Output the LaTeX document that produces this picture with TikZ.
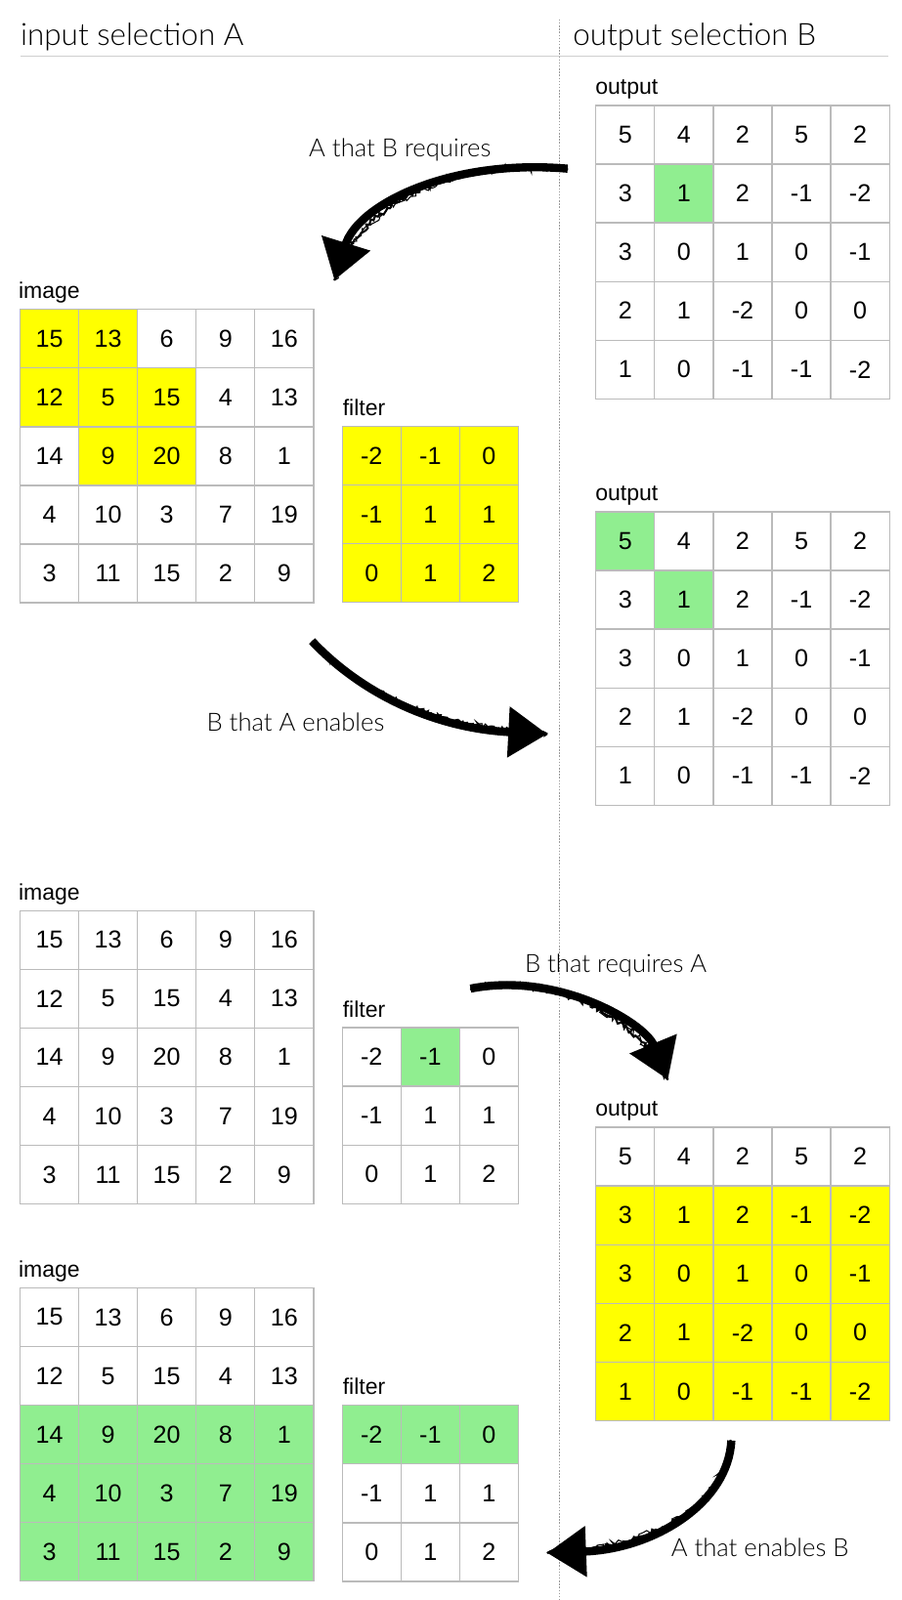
\documentclass[tikz,border=0pt]{standalone}
\usepackage{fontspec}
\setmainfont{Liberation Sans}
\newfontfamily\lightfont{Lato Light}
\usetikzlibrary{arrows.meta, matrix, decorations.pathmorphing}

\definecolor{gridgray}{HTML}{BBBBBB}
\definecolor{dotgray}{HTML}{999999}
\definecolor{rulegray}{HTML}{CFCFCF}
\definecolor{selyellow}{HTML}{FFFF00}
\definecolor{selgreen}{HTML}{90EE90}

\tikzset{
  numgrid/.style={matrix of nodes, ampersand replacement=\&, anchor=north west,
    inner sep=0pt, outer sep=0pt, row sep=-1.2pt, column sep=-1.2pt,
    nodes={draw=gridgray, line width=1.2pt, anchor=center, inner sep=0pt,
      minimum width=57.4pt, minimum height=57.4pt,
      font=\fontsize{24}{24}\selectfont}},
  yel/.style={fill=selyellow},
  grn/.style={fill=selgreen},
  gridlabel/.style={anchor=base west, inner sep=0pt, font=\fontsize{22}{22}\selectfont},
  heading/.style={anchor=base west, inner sep=0pt, font=\lightfont\fontsize{30}{30}\selectfont},
  armlabel/.style={anchor=base, inner sep=0pt, font=\lightfont\fontsize{24.5}{24.5}\selectfont},
  chalk/.style={line width=8pt, -{Triangle[length=38pt,width=48pt]},
    postaction={draw, -, line width=2pt, decorate,
      decoration={random steps, segment length=2.5pt, amplitude=2.5pt}},
    postaction={draw, -, line width=1pt, decorate,
      decoration={random steps, segment length=3pt, amplitude=3.5pt}}}
}

\begin{document}
\begin{tikzpicture}[x=1pt, y=-1pt]
\useasboundingbox (0,0) rectangle (881,1565);

% headings
\node[heading] (head-a) at (20,44) {input selection A};
\node[heading] (head-b) at (560,44) {output selection B};
\draw[rulegray, line width=1.5pt] (20,55) -- (868,55);
\draw[dotgray, line width=1.4pt, dash pattern=on 1.4pt off 1.6pt] (547,19) -- (547,1565);

% --- A that B requires
\node[gridlabel] (lbl-out1) at (582,92) {output};
\matrix (out1) [numgrid] at (582,102.5) {
  5 \& 4 \& 2 \& 5 \& 2 \\
  3 \& |[grn]| 1 \& 2 \& -1 \& -2 \\
  3 \& 0 \& 1 \& 0 \& -1 \\
  2 \& 1 \& -2 \& 0 \& 0 \\
  1 \& 0 \& -1 \& -1 \& -2 \\
};

\node[gridlabel] (lbl-img1) at (18,292) {image};
\matrix (img1) [numgrid] at (19,302) {
  |[yel]| 15 \& |[yel]| 13 \& 6 \& 9 \& 16 \\
  |[yel]| 12 \& |[yel]| 5 \& |[yel]| 15 \& 4 \& 13 \\
  14 \& |[yel]| 9 \& |[yel]| 20 \& 8 \& 1 \\
  4 \& 10 \& 3 \& 7 \& 19 \\
  3 \& 11 \& 15 \& 2 \& 9 \\
};

\node[gridlabel] (lbl-fil1) at (335,407) {filter};
\matrix (fil1) [numgrid] at (334,416.5) {
  |[yel]| -2 \& |[yel]| -1 \& |[yel]| 0 \\
  |[yel]| -1 \& |[yel]| 1 \& |[yel]| 1 \\
  |[yel]| 0 \& |[yel]| 1 \& |[yel]| 2 \\
};

\coordinate (req-from) at (555,165);
\coordinate (req-to) at (327,274);
\draw[chalk] (req-from) .. controls (440,155) and (350,200) .. (req-to);
\node[armlabel] (arm-req) at (391,153) {A that B requires};

% --- B that A enables
\node[gridlabel] (lbl-out2) at (582,490) {output};
\matrix (out2) [numgrid] at (582,500) {
  |[grn]| 5 \& 4 \& 2 \& 5 \& 2 \\
  3 \& |[grn]| 1 \& 2 \& -1 \& -2 \\
  3 \& 0 \& 1 \& 0 \& -1 \\
  2 \& 1 \& -2 \& 0 \& 0 \\
  1 \& 0 \& -1 \& -1 \& -2 \\
};

\coordinate (ena-from) at (305,627);
\coordinate (ena-to) at (535,718);
\draw[chalk] (ena-from) .. controls (350,675) and (420,712) .. (ena-to);
\node[armlabel] (arm-ena) at (289,715) {B that A enables};

% --- B that requires A
\node[gridlabel] (lbl-img2) at (18,880) {image};
\matrix (img2) [numgrid] at (19,890) {
  15 \& 13 \& 6 \& 9 \& 16 \\
  12 \& 5 \& 15 \& 4 \& 13 \\
  14 \& 9 \& 20 \& 8 \& 1 \\
  4 \& 10 \& 3 \& 7 \& 19 \\
  3 \& 11 \& 15 \& 2 \& 9 \\
};

\node[gridlabel] (lbl-fil2) at (335,995) {filter};
\matrix (fil2) [numgrid] at (334,1004.5) {
  -2 \& |[grn]| -1 \& 0 \\
  -1 \& 1 \& 1 \\
  0 \& 1 \& 2 \\
};

\node[gridlabel] (lbl-out3) at (582,1092) {output};
\matrix (out3) [numgrid] at (582,1102) {
  5 \& 4 \& 2 \& 5 \& 2 \\
  |[yel]| 3 \& |[yel]| 1 \& |[yel]| 2 \& |[yel]| -1 \& |[yel]| -2 \\
  |[yel]| 3 \& |[yel]| 0 \& |[yel]| 1 \& |[yel]| 0 \& |[yel]| -1 \\
  |[yel]| 2 \& |[yel]| 1 \& |[yel]| -2 \& |[yel]| 0 \& |[yel]| 0 \\
  |[yel]| 1 \& |[yel]| 0 \& |[yel]| -1 \& |[yel]| -1 \& |[yel]| -2 \\
};

\coordinate (rqa-from) at (460,967);
\coordinate (rqa-to) at (653,1056);
\draw[chalk] (rqa-from) .. controls (545,950) and (630,1000) .. (rqa-to);
\node[armlabel] (arm-rqa) at (602,951) {B that requires A};

% --- A that enables B
\node[gridlabel] (lbl-img3) at (18,1249) {image};
\matrix (img3) [numgrid] at (19,1259) {
  15 \& 13 \& 6 \& 9 \& 16 \\
  12 \& 5 \& 15 \& 4 \& 13 \\
  |[grn]| 14 \& |[grn]| 9 \& |[grn]| 20 \& |[grn]| 8 \& |[grn]| 1 \\
  |[grn]| 4 \& |[grn]| 10 \& |[grn]| 3 \& |[grn]| 7 \& |[grn]| 19 \\
  |[grn]| 3 \& |[grn]| 11 \& |[grn]| 15 \& |[grn]| 2 \& |[grn]| 9 \\
};

\node[gridlabel] (lbl-fil3) at (335,1364) {filter};
\matrix (fil3) [numgrid] at (334,1374) {
  |[grn]| -2 \& |[grn]| -1 \& |[grn]| 0 \\
  -1 \& 1 \& 1 \\
  0 \& 1 \& 2 \\
};

\coordinate (enb-from) at (715,1409);
\coordinate (enb-to) at (535,1519);
\draw[chalk] (enb-from) .. controls (712,1470) and (640,1515) .. (enb-to);
\node[armlabel] (arm-enb) at (743,1522) {A that enables B};

\end{tikzpicture}
\end{document}
